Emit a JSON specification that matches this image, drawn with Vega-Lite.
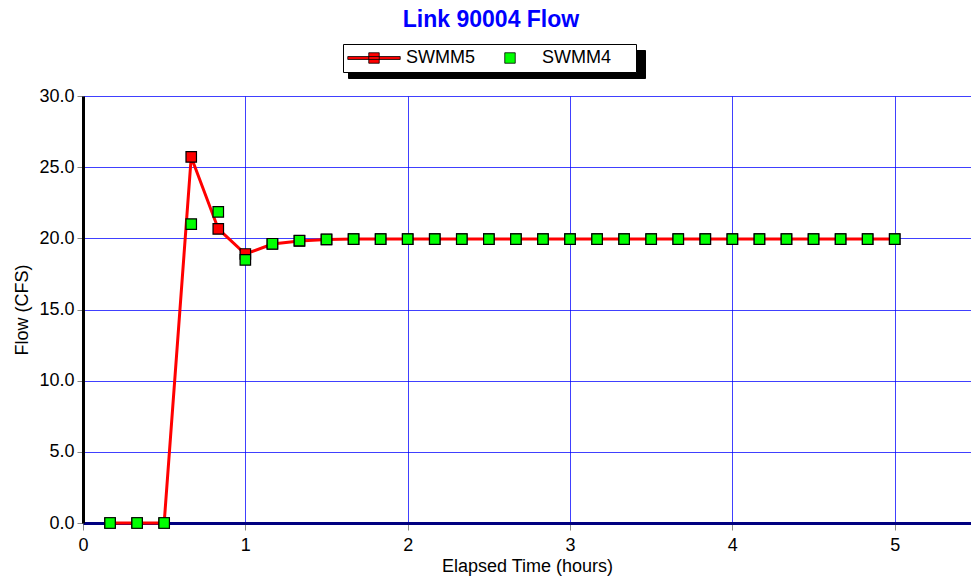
{
  "$schema": "https://vega.github.io/schema/vega-lite/v6.json",
  "autosize": "none",
  "width": 888,
  "height": 427,
  "padding": {"left": 83, "top": 96, "right": 0, "bottom": 61},
  "background": "white",
  "config": {
    "font": "Liberation Sans",
    "view": {"stroke": null}
  },
  "title": {
    "text": "Link 90004 Flow",
    "color": "#0000ff",
    "fontSize": 23,
    "fontWeight": "bold",
    "font": "Liberation Sans",
    "anchor": "middle",
    "dx": -36,
    "offset": 12
  },
  "data": {
    "values": [
      {"t": 0.1667, "series": "SWMM5", "flow": 0},
      {"t": 0.3333, "series": "SWMM5", "flow": 0},
      {"t": 0.5, "series": "SWMM5", "flow": 0},
      {"t": 0.6667, "series": "SWMM5", "flow": 25.72},
      {"t": 0.8333, "series": "SWMM5", "flow": 20.66},
      {"t": 1.0, "series": "SWMM5", "flow": 18.9},
      {"t": 1.1667, "series": "SWMM5", "flow": 19.6},
      {"t": 1.3333, "series": "SWMM5", "flow": 19.82},
      {"t": 1.5, "series": "SWMM5", "flow": 19.92},
      {"t": 1.6667, "series": "SWMM5", "flow": 19.95},
      {"t": 1.8333, "series": "SWMM5", "flow": 19.95},
      {"t": 2.0, "series": "SWMM5", "flow": 19.95},
      {"t": 2.1667, "series": "SWMM5", "flow": 19.95},
      {"t": 2.3333, "series": "SWMM5", "flow": 19.95},
      {"t": 2.5, "series": "SWMM5", "flow": 19.95},
      {"t": 2.6667, "series": "SWMM5", "flow": 19.95},
      {"t": 2.8333, "series": "SWMM5", "flow": 19.95},
      {"t": 3.0, "series": "SWMM5", "flow": 19.95},
      {"t": 3.1667, "series": "SWMM5", "flow": 19.95},
      {"t": 3.3333, "series": "SWMM5", "flow": 19.95},
      {"t": 3.5, "series": "SWMM5", "flow": 19.95},
      {"t": 3.6667, "series": "SWMM5", "flow": 19.95},
      {"t": 3.8333, "series": "SWMM5", "flow": 19.95},
      {"t": 4.0, "series": "SWMM5", "flow": 19.95},
      {"t": 4.1667, "series": "SWMM5", "flow": 19.95},
      {"t": 4.3333, "series": "SWMM5", "flow": 19.95},
      {"t": 4.5, "series": "SWMM5", "flow": 19.95},
      {"t": 4.6667, "series": "SWMM5", "flow": 19.95},
      {"t": 4.8333, "series": "SWMM5", "flow": 19.95},
      {"t": 5.0, "series": "SWMM5", "flow": 19.95},
      {"t": 0.1667, "series": "SWMM4", "flow": 0},
      {"t": 0.3333, "series": "SWMM4", "flow": 0},
      {"t": 0.5, "series": "SWMM4", "flow": 0},
      {"t": 0.6667, "series": "SWMM4", "flow": 21.0},
      {"t": 0.8333, "series": "SWMM4", "flow": 21.86},
      {"t": 1.0, "series": "SWMM4", "flow": 18.48},
      {"t": 1.1667, "series": "SWMM4", "flow": 19.62},
      {"t": 1.3333, "series": "SWMM4", "flow": 19.84},
      {"t": 1.5, "series": "SWMM4", "flow": 19.93},
      {"t": 1.6667, "series": "SWMM4", "flow": 19.95},
      {"t": 1.8333, "series": "SWMM4", "flow": 19.95},
      {"t": 2.0, "series": "SWMM4", "flow": 19.95},
      {"t": 2.1667, "series": "SWMM4", "flow": 19.95},
      {"t": 2.3333, "series": "SWMM4", "flow": 19.95},
      {"t": 2.5, "series": "SWMM4", "flow": 19.95},
      {"t": 2.6667, "series": "SWMM4", "flow": 19.95},
      {"t": 2.8333, "series": "SWMM4", "flow": 19.95},
      {"t": 3.0, "series": "SWMM4", "flow": 19.95},
      {"t": 3.1667, "series": "SWMM4", "flow": 19.95},
      {"t": 3.3333, "series": "SWMM4", "flow": 19.95},
      {"t": 3.5, "series": "SWMM4", "flow": 19.95},
      {"t": 3.6667, "series": "SWMM4", "flow": 19.95},
      {"t": 3.8333, "series": "SWMM4", "flow": 19.95},
      {"t": 4.0, "series": "SWMM4", "flow": 19.95},
      {"t": 4.1667, "series": "SWMM4", "flow": 19.95},
      {"t": 4.3333, "series": "SWMM4", "flow": 19.95},
      {"t": 4.5, "series": "SWMM4", "flow": 19.95},
      {"t": 4.6667, "series": "SWMM4", "flow": 19.95},
      {"t": 4.8333, "series": "SWMM4", "flow": 19.95},
      {"t": 5.0, "series": "SWMM4", "flow": 19.95}
    ]
  },
  "encoding": {
    "x": {
      "field": "t",
      "type": "quantitative",
      "scale": {"domain": [0, 5.47], "nice": false, "zero": false},
      "axis": {
        "title": "Elapsed Time (hours)",
        "titleFontSize": 18,
        "titleFontWeight": "normal",
        "titleColor": "black",
        "titlePadding": 3,
        "values": [0, 1, 2, 3, 4, 5],
        "format": "d",
        "labelFontSize": 18,
        "labelColor": "black",
        "labelPadding": 6,
        "labelFlush": false,
        "tickColor": "#888888",
        "tickSize": 7,
        "domainColor": "#000080",
        "domainWidth": 3,
        "grid": true,
        "gridColor": "#0000ff",
        "gridOpacity": 0.75,
        "gridWidth": 1
      }
    },
    "y": {
      "field": "flow",
      "type": "quantitative",
      "scale": {"domain": [0, 30], "nice": false},
      "axis": {
        "title": "Flow (CFS)",
        "titleFontSize": 18,
        "titleFontWeight": "normal",
        "titleColor": "black",
        "titlePadding": 7,
        "values": [0, 5, 10, 15, 20, 25, 30],
        "format": ".1f",
        "labelFontSize": 18,
        "labelColor": "black",
        "labelPadding": 3,
        "labelFlush": false,
        "tickColor": "#888888",
        "tickSize": 6,
        "domainColor": "black",
        "domainWidth": 3,
        "grid": true,
        "gridColor": "#0000ff",
        "gridOpacity": 0.75,
        "gridWidth": 1
      }
    }
  },
  "layer": [
    {
      "transform": [{"filter": "datum.series === 'SWMM5'"}],
      "mark": {"type": "line", "color": "#ff0000", "strokeWidth": 3}
    },
    {
      "mark": {"type": "point", "shape": "square", "filled": true, "stroke": "black", "strokeWidth": 1.2, "opacity": 1},
      "encoding": {
        "color": {
          "field": "series",
          "type": "nominal",
          "scale": {"domain": ["SWMM5", "SWMM4"], "range": ["#ff0000", "#00ff00"]},
          "legend": {
            "title": null,
            "orient": "none",
            "legendX": 260,
            "legendY": -52,
            "zindex": 2,
            "direction": "horizontal",
            "columns": 2,
            "strokeColor": "black",
            "fillColor": "white",
            "padding": 5,
            "labelFontSize": 18,
            "labelColor": "black",
            "labelOffset": 23,
            "labelExpr": "datum.label === 'SWMM4' ? datum.label + '\u00a0\u00a0\u00a0\u00a0\u2060' : datum.label",
            "columnPadding": 9,
            "symbolOffset": 17,
            "symbolSize": 110,
            "symbolOpacity": 1,
            "symbolStrokeColor": "black",
            "symbolStrokeWidth": 0.8
          }
        },
        "size": {
          "field": "series",
          "type": "nominal",
          "scale": {"range": [110, 110]},
          "legend": {
            "title": null,
            "orient": "none",
            "legendX": 265,
            "legendY": -46,
            "zindex": 1,
            "direction": "horizontal",
            "columns": 2,
            "strokeColor": "black",
            "fillColor": "black",
            "padding": 5,
            "labelFontSize": 18,
            "labelColor": "black",
            "labelOffset": 23,
            "labelExpr": "datum.label === 'SWMM5' ? '\u2060\u00a0\u00a0\u00a0\u00a0\u00a0\u00a0\u00a0\u00a0\u00a0\u00a0\u00a0\u00a0\u00a0\u00a0\u00a0\u00a0\u00a0\u00a0\u2060' : '\u2060\u00a0\u00a0\u00a0\u00a0\u00a0\u00a0\u00a0\u00a0\u00a0\u00a0\u00a0\u00a0\u00a0\u00a0\u2060'",
            "columnPadding": 9,
            "symbolOffset": 17,
            "symbolFillColor": "black",
            "symbolStrokeColor": "black"
          }
        }
      }
    },
    {
      "mark": {"type": "point", "filled": true, "opacity": 0, "stroke": "black", "strokeWidth": 0.8},
      "encoding": {
        "color": {"field": "series", "type": "nominal"},
        "shape": {
          "field": "series",
          "type": "nominal",
          "scale": {"domain": ["SWMM5", "SWMM4"], "range": ["M-5,-0.28H5V0.28H-5Z M-1,-1H1V1H-1Z", "square"]}
        }
      }
    }
  ]
}
